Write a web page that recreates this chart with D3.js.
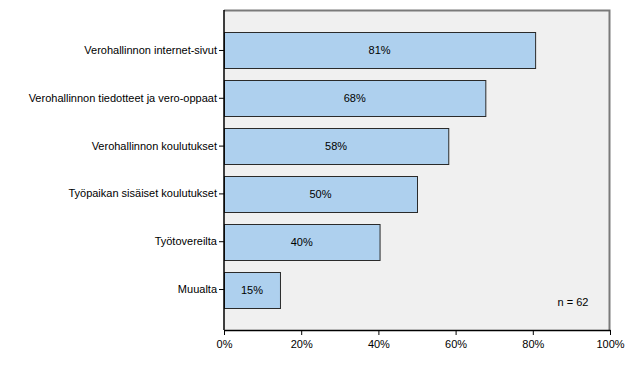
<!DOCTYPE html>
<html>
<head>
<meta charset="utf-8">
<script src="https://cdn.jsdelivr.net/npm/d3@7"></script>
<style>
  body { margin: 0; background: #fff; }
  text { font-family: "Liberation Sans", Arial, sans-serif; fill: #000; }
</style>
</head>
<body>
<div id="chart"></div>
<script>
// Data (n = 62)
const categories = [
  "Verohallinnon internet-sivut",
  "Verohallinnon tiedotteet ja vero-oppaat",
  "Verohallinnon koulutukset",
  "Työpaikan sisäiset koulutukset",
  "Työtovereilta",
  "Muualta"
];
const values = [80.6, 67.7, 58.1, 50.0, 40.3, 14.5];
const valueLabels = ["81%", "68%", "58%", "50%", "40%", "15%"];
const xTicks = [0, 20, 40, 60, 80, 100];
const sampleNote = "n = 62";

const width = 626, height = 383;
const plot = { left: 224, right: 610, top: 10, bottom: 330 };

const svg = d3.select("#chart")
  .append("svg")
  .attr("width", width)
  .attr("height", height);

const x = d3.scaleLinear().domain([0, 100]).range([plot.left, plot.right]);
const y = d3.scaleBand()
  .domain(categories)
  .range([plot.top, plot.bottom])
  .paddingInner(0.247)
  .paddingOuter(0.47);

//Plot background
svg.append("rect")
  .attr("x", plot.left)
  .attr("y", plot.top)
  .attr("width", plot.right - plot.left)
  .attr("height", plot.bottom - plot.top)
  .attr("fill", "#f0f0f0");

//Grey frame on top and right
svg.append("path")
  .attr("d", `M${plot.left},${plot.top + 0.5} H${plot.right - 0.5} V${plot.bottom}`)
  .attr("fill", "none")
  .attr("stroke", "#7a7a7a")
  .attr("stroke-width", 2);

//Bars
svg.selectAll("rect.bar")
  .data(values)
  .enter()
  .append("rect")
  .attr("class", "bar")
  .attr("x", x(0) + 0.5)
  .attr("y", (d, i) => Math.round(y(categories[i])) + 0.5)
  .attr("width", d => x(d) - x(0))
  .attr("height", Math.round(y.bandwidth()))
  .attr("fill", "#aed0ee")
  .attr("stroke", "#2a2a2a")
  .attr("stroke-width", 1);

//Value labels
svg.selectAll("text.val")
  .data(valueLabels)
  .enter()
  .append("text")
  .attr("class", "val")
  .attr("x", (d, i) => x(0) + (x(values[i]) - x(0)) / 2)
  .attr("y", (d, i) => y(categories[i]) + y.bandwidth() / 2 + 4)
  .attr("text-anchor", "middle")
  .attr("font-size", 11)
  .text(d => d);

//Axes
const xAxis = d3.axisBottom(x)
  .tickValues(xTicks)
  .tickFormat(d => d + "%")
  .tickSize(5)
  .tickSizeOuter(0);
const gx = svg.append("g")
  .attr("transform", `translate(0,${plot.bottom})`)
  .call(xAxis);
gx.select(".domain").attr("stroke", "#000").attr("stroke-width", 1.5);
gx.selectAll(".tick line").attr("stroke", "#000");
gx.selectAll(".tick text")
  .attr("font-size", 11)
  .attr("font-family", "Liberation Sans, Arial, sans-serif")
  .attr("dy", "0.95em");

const yAxis = d3.axisLeft(y).tickSize(5).tickSizeOuter(0).tickPadding(2);
const gy = svg.append("g")
  .attr("transform", `translate(${plot.left},0)`)
  .call(yAxis);
gy.select(".domain")
  .attr("d", `M0,${plot.top} V${plot.bottom}`)
  .attr("stroke", "#000")
  .attr("stroke-width", 1.5);
gy.selectAll(".tick line").attr("stroke", "#000");
gy.selectAll(".tick text")
  .attr("font-size", 11)
  .attr("font-family", "Liberation Sans, Arial, sans-serif");

//Sample size note
svg.append("text")
  .attr("x", 573)
  .attr("y", 306)
  .attr("text-anchor", "middle")
  .attr("font-size", 11)
  .text(sampleNote);
</script>
</body>
</html>
